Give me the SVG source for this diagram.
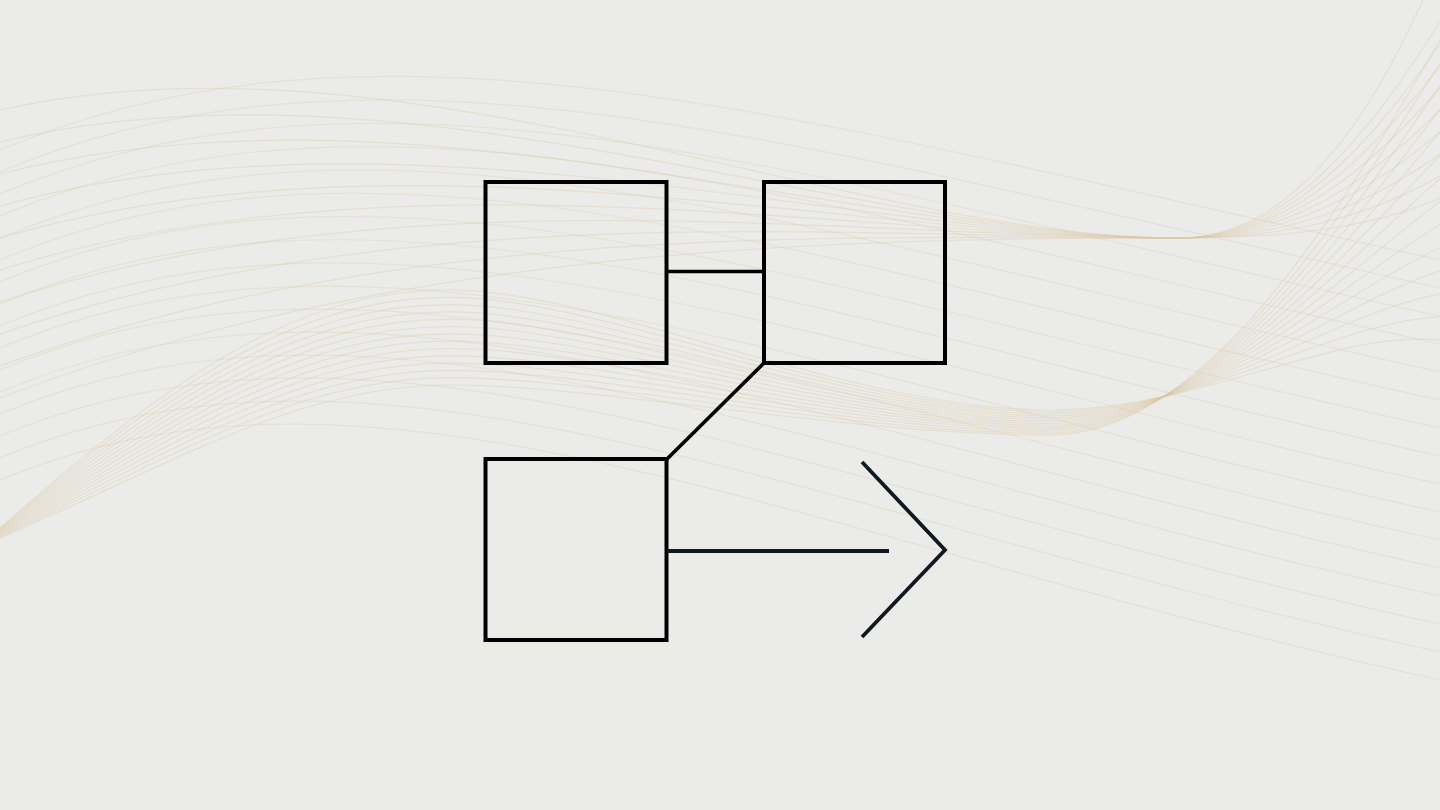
<svg xmlns="http://www.w3.org/2000/svg" width="1440" height="810" viewBox="0 0 1440 810">
<style>
.bg{fill:#EBEBE9}
.wa{fill:none;stroke:#D8C4A4;stroke-opacity:0.26;stroke-width:1.2}
.wb{fill:none;stroke:#DCC39A;stroke-opacity:0.3;stroke-width:1.2}
.wc{fill:none;stroke:#DCC39A;stroke-opacity:0.3;stroke-width:1.2}
.box{fill:none;stroke:#000;stroke-width:4}
.conn{fill:none;stroke:#000;stroke-width:3.6}
.arrow{fill:none;stroke:#121821;stroke-width:3.8;stroke-linejoin:miter}
</style>
<rect class="bg" x="0" y="0" width="1440" height="810"/>
<g id="background-waves">
<path class="wa" d="M0,150 C380,-10 800,120 1440,260"/>
<path class="wa" d="M0,172 C380,12 800,148 1440,288"/>
<path class="wa" d="M0,194 C380,34 800,176 1440,316"/>
<path class="wa" d="M0,216 C380,56 800,204 1440,344"/>
<path class="wa" d="M0,238 C380,78 800,232 1440,372"/>
<path class="wa" d="M0,260 C380,100 800,260 1440,400"/>
<path class="wa" d="M0,282 C380,122 800,288 1440,428"/>
<path class="wa" d="M0,304 C380,144 800,316 1440,456"/>
<path class="wa" d="M0,326 C380,166 800,344 1440,484"/>
<path class="wa" d="M0,348 C380,188 800,372 1440,512"/>
<path class="wa" d="M0,370 C380,210 800,400 1440,540"/>
<path class="wa" d="M0,392 C380,232 800,428 1440,568"/>
<path class="wa" d="M0,414 C380,254 800,456 1440,596"/>
<path class="wa" d="M0,436 C380,276 800,484 1440,624"/>
<path class="wa" d="M0,458 C380,298 800,512 1440,652"/>
<path class="wa" d="M0,480 C380,320 800,540 1440,680"/>
<path class="wb" d="M0,538 C180,460 300,385 450,385 C600,385 850,435 1050,435 C1200,435 1330,230 1440,40"/>
<path class="wb" d="M0,537.2 C180,453.1 300,377.7 450,377.7 C600,377.7 850,433.1 1050,433.1 C1200,433.1 1330,237.7 1440,63.1"/>
<path class="wb" d="M0,536.5 C180,446.2 300,370.4 450,370.4 C600,370.4 850,431.2 1050,431.2 C1200,431.2 1330,245.4 1440,86.2"/>
<path class="wb" d="M0,535.7 C180,439.2 300,363.1 450,363.1 C600,363.1 850,429.2 1050,429.2 C1200,429.2 1330,253.1 1440,109.2"/>
<path class="wb" d="M0,534.9 C180,432.3 300,355.8 450,355.8 C600,355.8 850,427.3 1050,427.3 C1200,427.3 1330,260.8 1440,132.3"/>
<path class="wb" d="M0,534.2 C180,425.4 300,348.5 450,348.5 C600,348.5 850,425.4 1050,425.4 C1200,425.4 1330,268.5 1440,155.4"/>
<path class="wb" d="M0,533.4 C180,418.5 300,341.2 450,341.2 C600,341.2 850,423.5 1050,423.5 C1200,423.5 1330,276.2 1440,178.5"/>
<path class="wb" d="M0,532.6 C180,411.5 300,333.8 450,333.8 C600,333.8 850,421.5 1050,421.5 C1200,421.5 1330,283.8 1440,201.5"/>
<path class="wb" d="M0,531.8 C180,404.6 300,326.5 450,326.5 C600,326.5 850,419.6 1050,419.6 C1200,419.6 1330,291.5 1440,224.6"/>
<path class="wb" d="M0,531.1 C180,397.7 300,319.2 450,319.2 C600,319.2 850,417.7 1050,417.7 C1200,417.7 1330,299.2 1440,247.7"/>
<path class="wb" d="M0,530.3 C180,390.8 300,311.9 450,311.9 C600,311.9 850,415.8 1050,415.8 C1200,415.8 1330,306.9 1440,270.8"/>
<path class="wb" d="M0,529.5 C180,383.8 300,304.6 450,304.6 C600,304.6 850,413.8 1050,413.8 C1200,413.8 1330,314.6 1440,293.8"/>
<path class="wb" d="M0,528.8 C180,376.9 300,297.3 450,297.3 C600,297.3 850,411.9 1050,411.9 C1200,411.9 1330,322.3 1440,316.9"/>
<path class="wb" d="M0,528 C180,370 300,290 450,290 C600,290 850,410 1050,410 C1200,410 1330,330 1440,340"/>
<path class="wc" d="M0,110 C400,20 850,238 1180,238 C1290,238 1370,120 1425,-5"/>
<path class="wc" d="M0,142 C400,45 850,238 1180,238 C1290,238 1370,132 1440,22"/>
<path class="wc" d="M0,174 C400,70 850,238 1180,238 C1290,238 1370,144 1440,44"/>
<path class="wc" d="M0,206 C400,95 850,238 1180,238 C1290,238 1370,156 1440,66"/>
<path class="wc" d="M0,238 C400,120 850,238 1180,238 C1290,238 1370,168 1440,88"/>
<path class="wc" d="M0,270 C400,145 850,238 1180,238 C1290,238 1370,180 1440,110"/>
<path class="wc" d="M0,302 C400,170 850,238 1180,238 C1290,238 1370,192 1440,132"/>
<path class="wc" d="M0,334 C400,195 850,238 1180,238 C1290,238 1370,204 1440,154"/>
<path class="wc" d="M0,366 C400,220 850,238 1180,238 C1290,238 1370,216 1440,176"/>
<path class="wc" d="M0,398 C400,245 850,238 1180,238 C1290,238 1370,228 1440,198"/>
</g>
<g id="connectors">
<line class="conn" x1="667" y1="271.5" x2="764" y2="271.5"/>
<line class="conn" x1="764" y1="363" x2="667" y2="459"/>
</g>
<g id="node-top-left"><rect class="box" x="485.5" y="182" width="181" height="181"/></g>
<g id="node-top-right"><rect class="box" x="764" y="182" width="181" height="181"/></g>
<g id="node-bottom-left"><rect class="box" x="485.5" y="459" width="181" height="181"/></g>
<g id="arrow">
<line class="arrow" x1="667" y1="551" x2="889" y2="551"/>
<polyline class="arrow" points="862,462 945,550 862,637"/>
</g>
</svg>
